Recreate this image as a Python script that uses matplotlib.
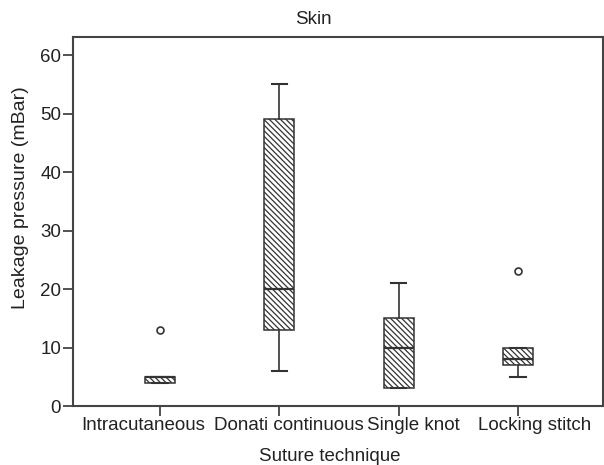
import matplotlib.pyplot as plt
from matplotlib.axes import Axes
from matplotlib.transforms import ScaledTranslation

plt.rcParams["font.family"] = ["Liberation Sans", "DejaVu Sans"]
plt.rcParams["hatch.linewidth"] = 0.9
plt.rcParams["hatch.color"] = "#333333"

techniques = ["Intracutaneous", "Donati continuous", "Single knot", "Locking stitch"]
whislo = [4, 6, 3, 5]
q1 = [4, 13, 3, 7]
med = [5, 20, 10, 8]
q3 = [5, 49, 15, 10]
whishi = [5, 55, 21, 10]
fliers = [[13], [], [], [23]]

# label nudges (pixels) so the long names sit side by side as in the original
label_shift = [-16.5, 10, 15, 17]


def main():
    fig = plt.figure(figsize=(6.04, 4.65), dpi=100)
    ax: Axes = fig.add_axes([73 / 604, (465 - 406) / 465, 530 / 604, 369 / 465])

    stats = []
    for i, name in enumerate(techniques):
        stats.append(dict(label=name, whislo=whislo[i], q1=q1[i], med=med[i],
                          q3=q3[i], whishi=whishi[i], fliers=fliers[i]))

    ink = "#333333"
    ax.bxp(stats, positions=[1, 2, 3, 4], widths=0.25, patch_artist=True,
           boxprops=dict(facecolor="white", edgecolor=ink, linewidth=1.1, hatch="\\" * 6),
           medianprops=dict(color=ink, linewidth=1.6),
           whiskerprops=dict(color=ink, linewidth=1.2),
           capprops=dict(color=ink, linewidth=1.5),
           capwidths=0.13,
           flierprops=dict(marker="o", markersize=5, markerfacecolor="white",
                           markeredgecolor=ink, markeredgewidth=1.2))

    ax.set_xlim(0.271, 4.712)
    ax.set_ylim(0, 63.1)
    ax.set_yticks([0, 10, 20, 30, 40, 50, 60])
    for s in ax.spines.values():
        s.set_color("#444444")
        s.set_linewidth(1.5)
    ax.tick_params(colors=ink, labelcolor="#222222", labelsize=13.5, length=7, width=1.2)
    ax.tick_params(axis="x", pad=1)
    ax.tick_params(axis="y", pad=1.5)
    for lab, dx in zip(ax.get_xticklabels(), label_shift):
        lab.set_transform(lab.get_transform() + ScaledTranslation(dx / 100, 0, fig.dpi_scale_trans))

    ax.set_title("Skin", fontsize=13.5, color="#222222", x=0.453, pad=9)
    ax.set_xlabel("Suture technique", fontsize=13.5, color="#222222", x=0.485, labelpad=10)
    ax.set_ylabel("Leakage pressure (mBar)", fontsize=14, color="#222222", y=0.565, labelpad=8)
    fig.savefig("out.png", dpi=100)


if __name__ == "__main__":
    main()
